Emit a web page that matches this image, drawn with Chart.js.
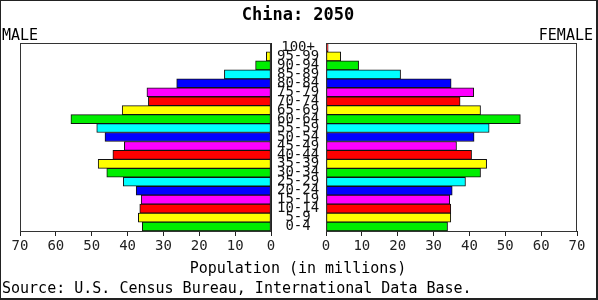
<!DOCTYPE html>
<html>
<head>
<meta charset="utf-8">
<script src="https://cdn.jsdelivr.net/npm/chart.js@4/dist/chart.umd.min.js"></script>
<style>
  html, body { margin: 0; padding: 0; background: #fff; }
  #wrap { position: relative; width: 598px; height: 300px; box-sizing: border-box;
          border: 1px solid #222; border-right-width: 2px; border-bottom-width: 2px; overflow: hidden; }
  canvas { position: absolute; top: 0; }
  .txt { position: absolute; font-family: "DejaVu Sans Mono", monospace; color: #000; white-space: nowrap; }
</style>
</head>
<body>
<div id="wrap">
  <canvas id="male" width="326" height="260" style="left:-1px; top:-1px;"></canvas>
  <canvas id="female" width="283" height="260" style="left:314px; top:-1px;"></canvas>
  <div class="txt" style="left:0; width:594px; top:2px; height:22px; line-height:22px; text-align:center; font-weight:bold; font-size:17px;">China: 2050</div>
  <div class="txt" style="left:1px; top:24px; line-height:20px; font-size:15px;">MALE</div>
  <div class="txt" style="right:3px; top:24px; line-height:20px; font-size:15px;">FEMALE</div>
  <div class="txt" style="left:0; width:594px; top:257px; line-height:20px; text-align:center; font-size:15px;">Population (in millions)</div>
  <div class="txt" style="left:1px; top:277px; line-height:20px; font-size:15px;">Source: U.S. Census Bureau, International Data Base.</div>
</div>
<script>
// Data (top to bottom)
const ageGroups = ['100+','95-99','90-94','85-89','80-84','75-79','70-74','65-69','60-64','55-59','50-54','45-49','40-44','35-39','30-34','25-29','20-24','15-19','10-14','5-9','0-4'];
const maleValues = [0.2,1.3,4.3,13.0,26.3,34.6,34.2,41.5,55.8,48.6,46.3,40.9,44.1,48.2,45.8,41.2,37.6,36.2,36.6,37.0,35.9];
const femaleValues = [0.6,4.1,9.1,20.8,34.9,41.2,37.4,43.1,54.2,45.5,41.3,36.4,40.6,44.8,43.1,38.9,35.2,34.5,34.8,34.8,33.9];
const xTickMax = 70;
const xTickStep = 10;

const palette = ['#00ee00','#ffff00','#ff0000','#ff00ff','#0000ff','#00ffff'];
const barColors = ageGroups.map((_, j) => palette[(ageGroups.length - 1 - j) % palette.length]);

const tickFont = { family: 'DejaVu Sans Mono', size: 14 };

const framePlugin = {
  id: 'frame',
  afterDraw(chart) {
    const a = chart.chartArea, ctx = chart.ctx;
    ctx.save();
    ctx.strokeStyle = '#333';
    ctx.lineWidth = 1;
    ctx.strokeRect(Math.round(a.left) + 0.5, Math.round(a.top) + 0.5,
                   Math.round(a.right - a.left) - 1, Math.round(a.bottom - a.top));
    ctx.restore();
  }
};

function makeChart(id, values, isLeft) {
  return new Chart(document.getElementById(id), {
    type: 'bar',
    data: {
      labels: ageGroups,
      datasets: [{
        data: values,
        backgroundColor: barColors,
        borderColor: '#111',
        borderWidth: 1,
        borderSkipped: false,
        barPercentage: 1,
        categoryPercentage: 1
      }]
    },
    options: {
      indexAxis: 'y',
      responsive: false,
      animation: false,
      devicePixelRatio: 1,
      layout: { padding: isLeft ? { left: 20, top: 43, right: 0, bottom: 0 } : { left: 11, top: 43, right: 21, bottom: 0 } },
      plugins: { legend: { display: false }, tooltip: { enabled: false }, title: { display: false } },
      scales: {
        x: {
          reverse: isLeft,
          min: 0,
          max: xTickMax,
          ticks: { stepSize: xTickStep, font: tickFont, color: '#222', padding: 2, maxRotation: 0, autoSkip: false },
          grid: { drawOnChartArea: false, drawTicks: true, tickLength: 5, color: '#222' },
          border: { display: true, color: '#222' },
          afterFit(scale) { scale.height = 29; }
        },
        y: {
          display: isLeft ? true : false,
          position: 'right',
          ticks: { font: tickFont, color: '#111', padding: 6, crossAlign: 'center', autoSkip: false },
          grid: { display: false, drawTicks: false },
          border: { display: true, color: '#222' },
          afterFit(scale) { scale.width = isLeft ? 55 : 0; }
        }
      }
    },
    plugins: [framePlugin]
  });
}

makeChart('male', maleValues, true);
makeChart('female', femaleValues, false);
</script>
</body>
</html>
